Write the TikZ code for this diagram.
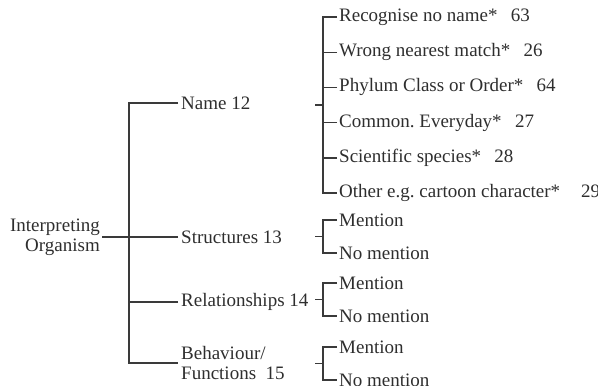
\documentclass[tikz,border=0pt]{standalone}
\usepackage{fontspec}
\setmainfont{Liberation Serif}
\frenchspacing
\definecolor{treegray}{HTML}{3a3a3a}
\definecolor{inkgray}{HTML}{2e2e2e}
\newcommand{\gapnum}{\hspace{0.7em}}

\begin{document}
\begin{tikzpicture}[
		x=1pt, y=-1pt,
		every node/.style={font=\fontsize{19}{20}\selectfont, text=inkgray},
		branch/.style={draw=treegray, line width=1.4pt},
		leaf/.style={anchor=west, inner sep=2pt}
	]
	\useasboundingbox (0,0) rectangle (598,386);
	
	% root and first level
	\node[anchor=east, align=right, inner sep=2pt] (root)
		at (102,237) {Interpreting\\Organism};
	\coordinate (trunk) at (129,237);
	
	\node[leaf, inner sep=3pt] (name) at (178,103) {Name 12};
	\node[leaf, inner sep=3pt] (struct) at (178,237) {Structures 13};
	\node[leaf, inner sep=3pt] (rel) at (178,302) {Relationships 14};
	\node[leaf, inner sep=3pt, align=left] (beh)
		at (178,363) {Behaviour/\\Functions\hspace{0.5em}15};
	
	\draw[branch] (root.east) -- (trunk);
	\draw[branch]
		(name.west) -- (name.west -| trunk) -- (beh.west -| trunk) -- (beh.west);
	\draw[branch] (struct.west) -- (struct.west -| trunk);
	\draw[branch] (rel.west) -- (rel.west -| trunk);
	
	% kinds of name
	\foreach \txt [count=\i] in {
		{Recognise no name*\gapnum 63},
		{Wrong nearest match*\gapnum 26},
		{Phylum Class or Order*\gapnum 64},
		{Common. Everyday*\gapnum 27},
		{Scientific species*\gapnum 28},
		{Other e.g. cartoon character*\hspace{1.1em}29}}{
		\node[leaf] (nm\i) at (337,{17+35.2*(\i-1)}) {\txt};
	}
	\coordinate (nameFork) at (323,105);
	\coordinate (nameTick) at (315,105);
	
	\draw[branch]
		(nm1.west) -- (nm1.west -| nameFork) -- (nm6.west -| nameFork) -- (nm6.west);
	\foreach \i in {2,...,5}{
		\draw[branch] (nm\i.west) -- (nm\i.west -| nameFork);
	}
	\draw[branch] (nameTick) -- (nameFork);
	
	% mention / no mention
	\foreach \top/\key in {220/st, 283/rl, 347/bh}{
		\node[leaf] (\key Yes) at (337,\top) {Mention};
		\node[leaf] (\key No) at (337,\top+33) {No mention};
		\coordinate (\key Fork) at (323,\top+16.5);
		\coordinate (\key Tick) at (315,\top+16.5);
		
		\draw[branch]
			(\key Yes.west) -- (\key Yes.west -| \key Fork)
			-- (\key No.west -| \key Fork) -- (\key No.west);
		\draw[branch] (\key Tick) -- (\key Fork);
	}
\end{tikzpicture}
\end{document}
